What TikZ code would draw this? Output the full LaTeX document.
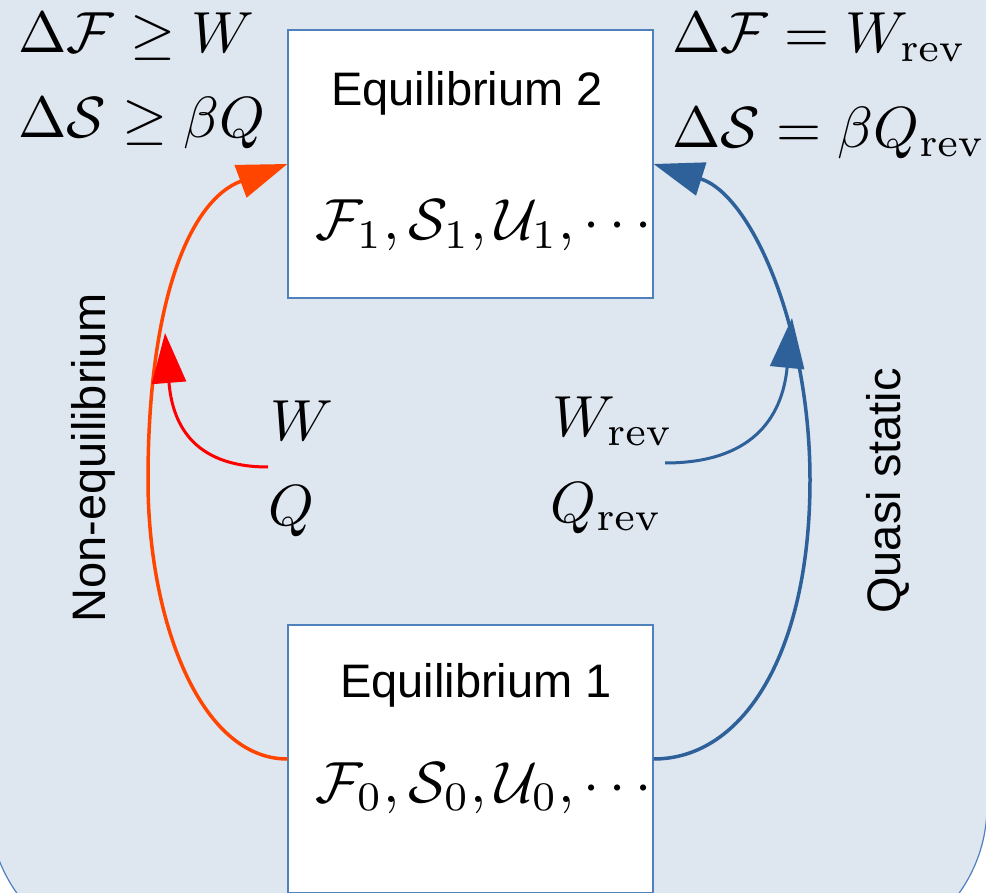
\documentclass[tikz,border=0pt]{standalone}
\usepackage{fix-cm}
\usepackage[no-math]{fontspec}
\newfontfamily\arialfont{Liberation Sans}
\usetikzlibrary{arrows.meta}
\definecolor{bgfill}{RGB}{222,230,240}
\definecolor{frameblue}{RGB}{79,129,189}
\definecolor{orangered}{RGB}{255,69,0}
\definecolor{arrred}{RGB}{255,0,0}
\definecolor{arrblue}{RGB}{46,96,153}
\newcommand{\bigmath}[1]{\scalebox{2.9}{$#1$}}
\begin{document}
\begin{tikzpicture}[x=0.5pt,y=-0.5pt,
  eqbox/.style={draw=frameblue, line width=0.6pt, fill=white, inner sep=0pt,
    minimum width=182.5pt, minimum height=134pt},
  mathtxt/.style={inner sep=0pt},
  sanstxt/.style={inner sep=0pt, font=\arialfont\fontsize{23.5}{28}\selectfont},
  bigarrow/.style={line width=1.75pt, -{Triangle[length=25pt,width=17pt]}},
  smallarrow/.style={line width=1.5pt, -{Triangle[length=25pt,width=17pt]}}]
\useasboundingbox (0,0) rectangle (986,893);
\clip (0,0) rectangle (986,893);
\draw[fill=bgfill, draw=frameblue, line width=0.6pt, rounded corners=75pt] (-11,-200) rectangle (987,956);

% boxes
\node[eqbox] (eq2) at (470.5,164) {};
\node[eqbox] (eq1) at (470.5,759) {};

% box texts
\node[sanstxt, anchor=base] (t2) at (467,106) {Equilibrium 2};
\node[mathtxt, anchor=base west] (v2) at (315,240) {\bigmath{\mathcal{F}_1,\mathcal{S}_1,\mathcal{U}_1,\cdots}};
\node[sanstxt, anchor=base] (t1) at (476,697) {Equilibrium 1};
\node[mathtxt, anchor=base west] (v1) at (315,802) {\bigmath{\mathcal{F}_0,\mathcal{S}_0,\mathcal{U}_0,\cdots}};

% corner relations
\node[mathtxt, anchor=base west] (iL1) at (18,53) {\bigmath{\Delta\mathcal{F}\geq W}};
\node[mathtxt, anchor=base west] (iL2) at (18,138) {\bigmath{\Delta\mathcal{S}\geq \beta Q}};
\node[mathtxt, anchor=base west] (iR1) at (672,53) {\bigmath{\Delta\mathcal{F}= W_{\mathrm{rev}}}};
\node[mathtxt, anchor=base west] (iR2) at (672,148) {\bigmath{\Delta\mathcal{S}= \beta Q_{\mathrm{rev}}}};

% work / heat labels
\node[mathtxt, anchor=base west] (W) at (270,440) {\bigmath{W}};
\node[mathtxt, anchor=base west] (Q) at (268,525) {\bigmath{Q}};
\node[mathtxt, anchor=base west] (Wr) at (552,437) {\bigmath{W_{\mathrm{rev}}}};
\node[mathtxt, anchor=base west] (Qr) at (550,522) {\bigmath{Q_{\mathrm{rev}}}};

% rotated labels
\node[sanstxt, rotate=90, anchor=base] (noneq) at (105,458) {Non-equilibrium};
\node[sanstxt, rotate=90, anchor=base] (quasi) at (900,491) {Quasi static};

% connector end points
\coordinate (redstart) at (268,467);
\coordinate (redtip) at (165,333);
\coordinate (bluestart) at (665,463);
\coordinate (bluetip) at (792,318);

% big arrows
\draw[bigarrow, orangered] (eq1.west) .. controls (200,759) and (148,620) .. (148,480)
   .. controls (148,300) and (190,200) .. (eq2.west);
\draw[bigarrow, arrblue] (eq1.east) .. controls (745,759) and (810,650) .. (810,480)
   .. controls (810,330) and (752,195) .. (eq2.east);

% small arrows
\draw[smallarrow, arrred] (redstart) .. controls (190,467) and (172,420) .. (redtip);
\draw[smallarrow, arrblue] (bluestart) .. controls (750,463) and (782,420) .. (bluetip);
\end{tikzpicture}
\end{document}
